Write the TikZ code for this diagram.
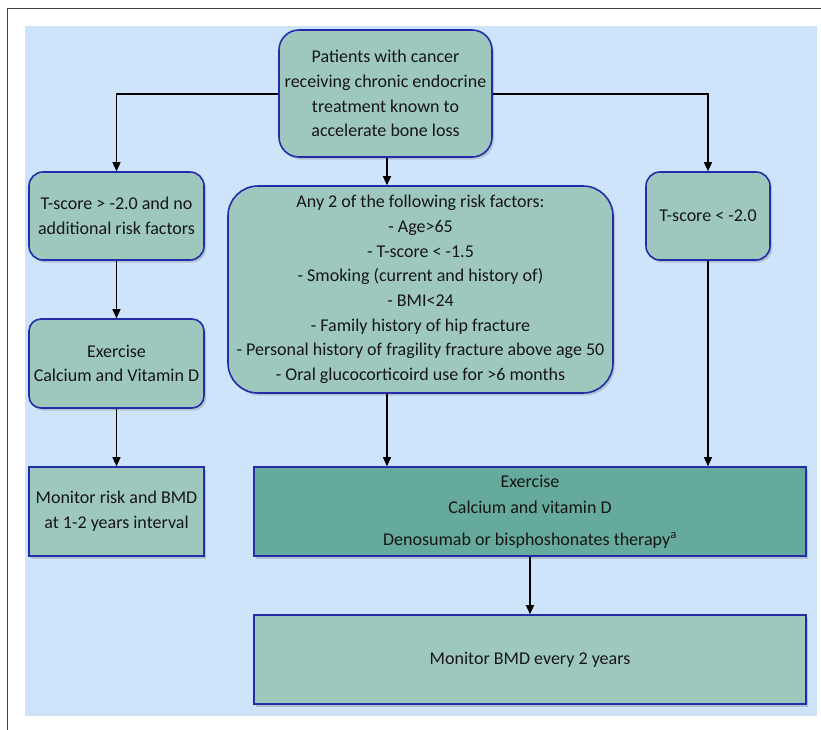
\documentclass[tikz,border=0pt]{standalone}
\usepackage{fontspec}
\setmainfont{Carlito}
\usetikzlibrary{arrows.meta,shadows}
\definecolor{bgblue}{RGB}{205,228,250}
\definecolor{boxfill}{RGB}{158,200,190}
\definecolor{darkfill}{RGB}{102,170,155}
\definecolor{boxedge}{RGB}{35,45,170}
\definecolor{txt}{RGB}{22,22,22}
\begin{document}
\begin{tikzpicture}[x=1pt,y=-1pt,
  box/.style={draw=boxedge, line width=1.6pt, fill=boxfill, align=center, inner sep=0pt,
    font=\fontsize{18}{24.7}\selectfont, text=txt,
    drop shadow={shadow xshift=2pt, shadow yshift=-2.5pt, opacity=0.35}},
  arr/.style={-{Triangle[length=9pt,width=8pt]}, line width=1.3pt, black}]
\useasboundingbox (0,0) rectangle (821,729);
\draw[line width=1pt, black!75] (7,8) rectangle (860,760);
\fill[bgblue] (25,26) rectangle (817,716);

\node[box, rounded corners=20pt, minimum width=213pt, minimum height=127pt] (top) at (385.5,93.5)
  {Patients with cancer\\receiving chronic endocrine\\treatment known to\\accelerate bone loss};
\node[box, rounded corners=14pt, minimum width=175pt, minimum height=88pt] (lt) at (116.5,216)
  {T-score > -2.0 and no\\additional risk factors};
\node[box, rounded corners=14pt, minimum width=124pt, minimum height=88pt] (rt) at (708,216)
  {T-score < -2.0};
\node[box, rounded corners=30pt, minimum width=385pt, minimum height=207pt] (mid) at (420.5,289.5)
  {Any 2 of the following risk factors:\\- Age>65\\- T-score < -1.5\\- Smoking (current and history of)\\- BMI<24\\- Family history of hip fracture\\- Personal history of fragility fracture above age 50\\- Oral glucocorticoird use for >6 months};
\node[box, rounded corners=12pt, minimum width=175pt, minimum height=89pt] (lex) at (116.5,363.5)
  {Exercise\\Calcium and Vitamin D};
\node[box, minimum width=175pt, minimum height=89pt] (lmon) at (116.5,511.5)
  {Monitor risk and BMD\\at 1-2 years interval};
\node[box, fill=darkfill, minimum width=552pt, minimum height=89pt,
  font=\fontsize{18}{26}\selectfont] (dark) at (530,511.5)
  {Exercise\\Calcium and vitamin D\\[6pt]Denosumab or bisphoshonates therapy\textsuperscript{a}};
\node[box, minimum width=552pt, minimum height=89pt] (bot) at (530,659.5)
  {Monitor BMD every 2 years};

\draw[arr] (top.west |- 0,94) -| (lt.north);
\draw[arr] (top.east |- 0,94) -| (rt.north);
\draw[arr] (387,0 |- top.south) -- (387,0 |- mid.north);
\draw[arr] (lt.south) -- (lex.north);
\draw[arr] (lex.south) -- (lmon.north);
\draw[arr] (387,0 |- mid.south) -- (387,0 |- dark.north);
\draw[arr] (rt.south) -- (rt.south |- dark.north);
\draw[arr] (dark.south) -- (bot.north);
\end{tikzpicture}
\end{document}
